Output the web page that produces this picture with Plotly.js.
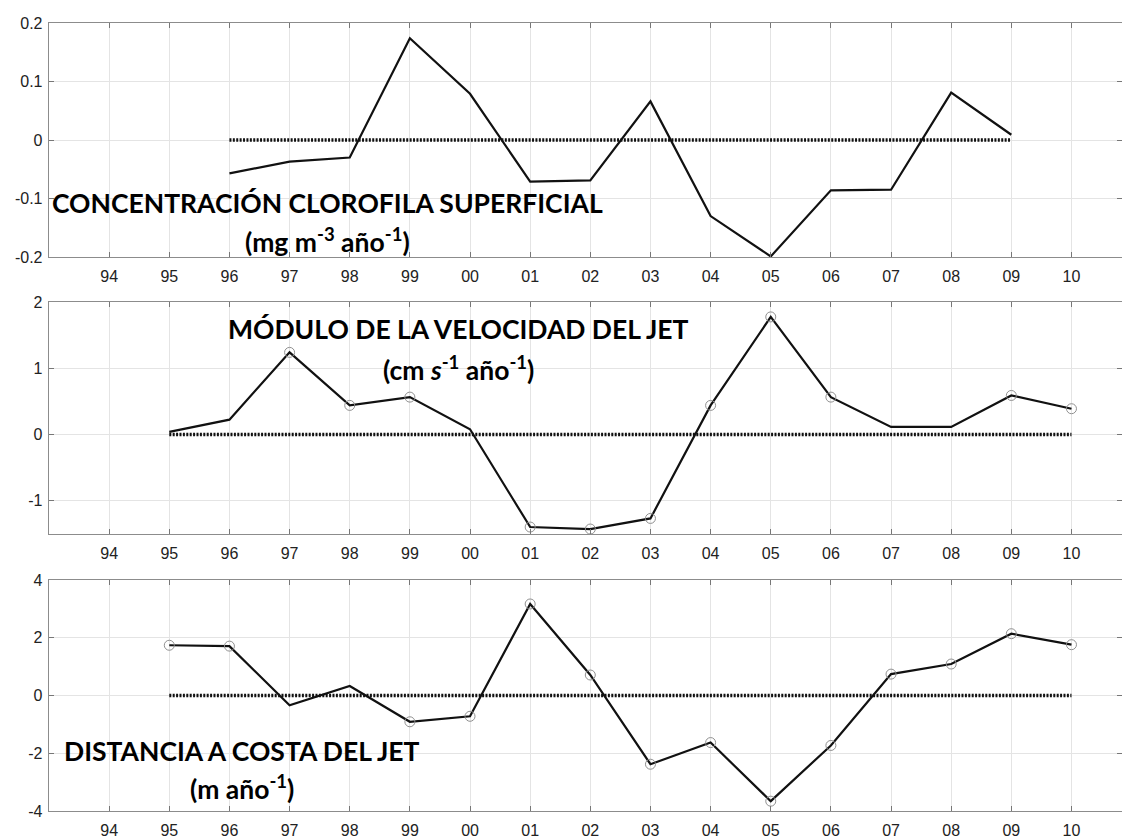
<!DOCTYPE html>
<html>
<head>
<meta charset="utf-8">
<script src="https://cdn.plot.ly/plotly-3.0.1.min.js"></script>
<style>
  html, body { margin: 0; padding: 0; background: #fff; }
  #chart { width: 1122px; height: 837px; }
</style>
</head>
<body>
<div id="chart"></div>
<script>
// ---- data ----
const tickYears = [1994,1995,1996,1997,1998,1999,2000,2001,2002,2003,2004,2005,2006,2007,2008,2009,2010];
const tickLabels = ['94','95','96','97','98','99','00','01','02','03','04','05','06','07','08','09','10'];

const chlYears = [1996,1997,1998,1999,2000,2001,2002,2003,2004,2005,2006,2007,2008,2009];
const chlValues = [-0.057,-0.037,-0.030,0.174,0.079,-0.071,-0.069,0.066,-0.130,-0.199,-0.086,-0.085,0.081,0.009];

const velYears = [1995,1996,1997,1998,1999,2000,2001,2002,2003,2004,2005,2006,2007,2008,2009,2010];
const velValues = [0.04,0.225,1.24,0.44,0.565,0.08,-1.395,-1.425,-1.265,0.44,1.775,0.565,0.115,0.115,0.59,0.39];
const velMarked = [0,0,1,1,1,0,1,1,1,1,1,1,0,0,1,1];

const distYears = [1995,1996,1997,1998,1999,2000,2001,2002,2003,2004,2005,2006,2007,2008,2009,2010];
const distValues = [1.74,1.71,-0.34,0.33,-0.91,-0.72,3.17,0.71,-2.38,-1.63,-3.66,-1.73,0.74,1.09,2.14,1.76];
const distMarked = [1,1,0,0,1,1,1,1,1,1,1,1,1,1,1,1];

const chlZeroSpan = [1996, 2009];
const velZeroSpan = [1995, 2010];
const distZeroSpan = [1995, 2010];

// ---- traces ----
const lineStyle = {color: '#111', width: 2.2};
const zeroStyle = {color: '#111', width: 3.4, dash: '2px,1.4px'};
const circ = {symbol: 'circle-open', size: 10, color: '#909090', line: {width: 1}};

function pick(arr, flags) { return arr.filter((_, i) => flags[i]); }

const traces = [
  {x: chlZeroSpan, y: chlZeroSpan.map(() => 0), xaxis: 'x', yaxis: 'y', mode: 'lines', line: zeroStyle, hoverinfo: 'skip'},
  {x: chlYears, y: chlValues, xaxis: 'x', yaxis: 'y', mode: 'lines', line: lineStyle},

  {x: velZeroSpan, y: velZeroSpan.map(() => 0), xaxis: 'x2', yaxis: 'y2', mode: 'lines', line: zeroStyle, hoverinfo: 'skip'},
  {x: velYears, y: velValues, xaxis: 'x2', yaxis: 'y2', mode: 'lines', line: lineStyle},
  {x: pick(velYears, velMarked), y: pick(velValues, velMarked), xaxis: 'x2', yaxis: 'y2', mode: 'markers', marker: circ},

  {x: distZeroSpan, y: distZeroSpan.map(() => 0), xaxis: 'x3', yaxis: 'y3', mode: 'lines', line: zeroStyle, hoverinfo: 'skip'},
  {x: distYears, y: distValues, xaxis: 'x3', yaxis: 'y3', mode: 'lines', line: lineStyle},
  {x: pick(distYears, distMarked), y: pick(distValues, distMarked), xaxis: 'x3', yaxis: 'y3', mode: 'markers', marker: circ}
];

// ---- layout ----
const H = 837;
const tickFont = {family: '"Liberation Sans", Arial, sans-serif', size: 16, color: '#222'};
const xRange = [1993, 2010.84];

function xAxis(anchor) {
  return {
    anchor: anchor, domain: [0, 1], range: xRange,
    tickvals: tickYears, ticktext: tickLabels,
    showgrid: true, gridcolor: '#e4e4e4', gridwidth: 1,
    showline: true, linecolor: '#8c8c8c', linewidth: 1.3, mirror: 'ticks',
    ticks: 'inside', ticklen: 5, tickcolor: '#777', tickwidth: 1,
    tickfont: tickFont, ticklabelstandoff: 4, zeroline: false, fixedrange: true
  };
}
function yAxis(anchor, top, bottom, range, tv, tt) {
  return {
    anchor: anchor, domain: [1 - bottom / H, 1 - top / H], range: range,
    tickvals: tv, ticktext: tt,
    showgrid: true, gridcolor: '#e4e4e4', gridwidth: 1,
    showline: true, linecolor: '#8c8c8c', linewidth: 1.3, mirror: 'ticks',
    ticks: 'inside', ticklen: 5, tickcolor: '#777', tickwidth: 1,
    tickfont: tickFont, ticklabelstandoff: 2, zeroline: false, fixedrange: true
  };
}

const annFont = {family: 'Lato, "Open Sans", sans-serif', size: 26.5, color: '#000', weight: 'bold'};
function ann(xref, yref, x, y, text) {
  return {xref: xref, yref: yref, x: x, y: y, text: '<b>' + text + '</b>', showarrow: false,
          xanchor: 'center', yanchor: 'middle', font: annFont};
}

const layout = {
  width: 1122, height: 837,
  margin: {l: 49, r: 0, t: 0, b: 0},
  paper_bgcolor: '#fff', plot_bgcolor: '#fff',
  showlegend: false,
  xaxis: xAxis('y'),
  xaxis2: xAxis('y2'),
  xaxis3: xAxis('y3'),
  yaxis: yAxis('x', 23, 257, [-0.2, 0.2], [-0.2,-0.1,0,0.1,0.2], ['-0.2','-0.1','0','0.1','0.2']),
  yaxis2: yAxis('x2', 302, 534, [-1.5, 2], [-1,0,1,2], ['-1','0','1','2']),
  yaxis3: yAxis('x3', 580, 811, [-4, 4], [-4,-2,0,2,4], ['-4','-2','0','2','4']),
  annotations: [
    ann('x', 'y', 1997.63, -0.108, 'CONCENTRACIÓN CLOROFILA SUPERFICIAL'),
    ann('x', 'y', 1997.63, -0.171, '(mg m<sup>-3</sup> año<sup>-1</sup>)'),
    ann('x2', 'y2', 1999.81, 1.6, 'MÓDULO DE LA VELOCIDAD DEL JET'),
    ann('x2', 'y2', 1999.81, 1.0, '(cm <i>s</i><sup>-1</sup> año<sup>-1</sup>)'),
    ann('x3', 'y3', 1996.21, -1.93, 'DISTANCIA A COSTA DEL JET'),
    ann('x3', 'y3', 1996.21, -3.19, '(m año<sup>-1</sup>)')
  ]
};

Plotly.newPlot('chart', traces, layout, {displayModeBar: false, staticPlot: true});
</script>
</body>
</html>
